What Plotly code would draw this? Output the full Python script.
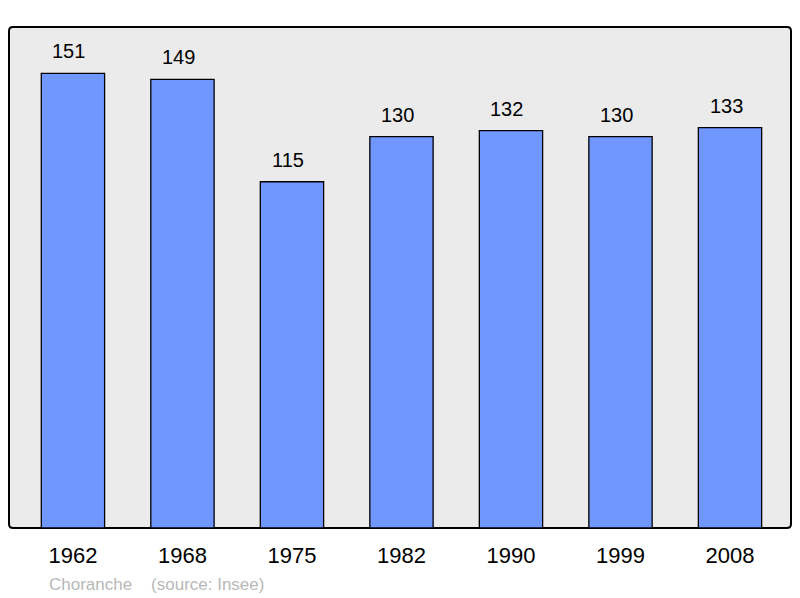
import plotly.graph_objects as go

years = ["1962", "1968", "1975", "1982", "1990", "1999", "2008"]
population = [151, 149, 115, 130, 132, 130, 133]
commune = "Choranche"
source = "(source: Insee)"

xpos = list(range(len(years)))

fig = go.Figure()
fig.add_trace(go.Bar(
    x=xpos, y=population, width=0.578,
    marker=dict(color="#7096ff", line=dict(color="#000000", width=1.3)),
    hoverinfo="skip",
))

for xi, v in zip(xpos, population):
    fig.add_annotation(x=xi, y=v, text=str(v), showarrow=False,
                       yanchor="bottom", yshift=9, xshift=-4,
                       font=dict(family="Liberation Sans, Arial", size=20, color="#000"))

fig.add_annotation(xref="paper", yref="paper", x=(47-9)/782, y=-(584-528)/501,
                   xanchor="left", yanchor="middle", showarrow=False,
                   text=commune + "\u00a0\u00a0\u00a0\u00a0" + source,
                   font=dict(family="Liberation Sans, Arial", size=17, color="#b8b8b8"))

# rounded frame of the plot area (radius ~4px)
rx, ry = 4 / 782, 4 / 501
frame = (f"M {rx},0 L {1-rx},0 Q 1,0 1,{ry} L 1,{1-ry} Q 1,1 {1-rx},1 "
         f"L {rx},1 Q 0,1 0,{1-ry} L 0,{ry} Q 0,0 {rx},0 Z")
fig.add_shape(type="path", xref="paper", yref="paper", path=frame,
              line=dict(color="#000", width=2), fillcolor="#ebebeb", layer="below")

fig.update_layout(
    width=792, height=590,
    margin=dict(l=1, r=9, t=19, b=70),
    paper_bgcolor="#ffffff", plot_bgcolor="rgba(0,0,0,0)",
    showlegend=False,
    xaxis=dict(range=[-0.584, 6.557], tickvals=xpos, ticktext=years,
               showgrid=False, zeroline=False, showline=False,
               ticks="outside", ticklen=8, tickcolor="rgba(0,0,0,0)",
               tickfont=dict(family="Liberation Sans, Arial", size=22, color="#000")),
    yaxis=dict(range=[0, 166.4], visible=False, showgrid=False),
)

fig.write_html("out.html")
